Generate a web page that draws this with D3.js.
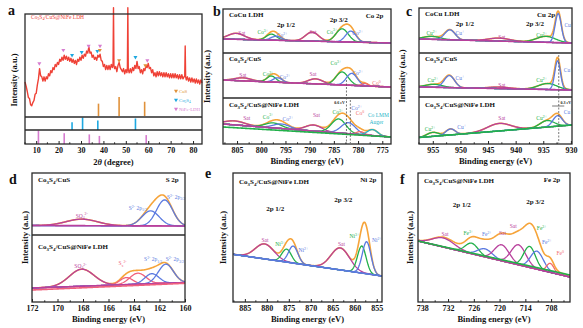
<!DOCTYPE html>
<html>
<head>
<meta charset="utf-8">
<script src="https://cdn.jsdelivr.net/npm/d3@7"></script>
<style>
  body { margin: 0; background: #fff; }
</style>
</head>
<body>
<svg id="fig" width="583" height="328"></svg>
<script>
// ---------------- a : XRD ----------------
const xrdAngle = [5,5.5,6,6.5,7,7.5,8,8.5,9,9.5,10,10.5,11,11.5,12,12.5,13,13.5,14,14.5,15,15.5,16,16.5,17,17.5,18,18.5,19,19.5,
  20,20.5,21,21.5,22,22.5,23,23.5,24,24.5,25,25.5,26,26.5,27,27.5,28,28.5,29,29.5,30,30.5,31,31.5,32,32.5,33,33.5,34,34.5,
  35,35.5,36,36.5,37,37.5,38,38.5,39,39.5,40,40.5,41,41.5,42,42.5,43,43.5,44,44.3,44.5,44.7,45,45.5,46,46.5,47,47.5,48,48.5,
  49,49.5,50,50.5,50.7,50.9,51.1,51.5,52,52.5,53,53.5,54,54.5,55,55.5,56,56.5,57,57.5,58,58.5,59,59.5,60,60.5,61,61.5,62,62.5,
  63,63.5,64,64.5,65,65.5,66,66.5,67,67.5,68,68.5,69,69.5,70,70.5,71,71.5,72,72.5,73,73.5,74,74.5,75,75.5,76,76.3,76.5,76.7,
  77,77.5,78,78.5,79,79.5,80,80.5,81,81.5,82,82.5,83,83.5,84];
const xrdCounts = [34,30,25,19,18,12,11,14,16,22,23,31,37,47,40,39,35,39,35,39,37,42,40,45,43,48,46,51,49,53,
  51,56,54,58,55,60,56,59,55,58,54,57,53,56,52,55,51,56,54,58,55,60,57,61,59,64,62,68,62,63,
  58,60,56,58,55,60,58,61,55,54,49,51,46,50,46,50,46,51,48,52,106,50,47,49,44,50,53,48,46,44,
  47,42,46,43,48,106,46,43,47,43,48,45,50,47,54,47,49,43,46,42,47,45,50,48,52,47,48,43,46,40,
  43,39,44,40,44,40,43,39,43,39,43,39,42,38,42,38,42,38,42,38,41,37,41,37,41,37,39,40,69,39,
  36,39,35,38,34,38,34,37,33,37,33,36,32,36,33];
const xrdTicks = [10, 20, 30, 40, 50, 60, 70, 80];
const cusRef = [37.8, 47.0, 58.4];
const cusRefI = [65, 100, 75];
const co3s4Ref = [26.0, 30.7, 37.5, 54.3];
const co3s4RefI = [62, 100, 77, 92];
const nifeRef = [11.0, 22.5, 33.7, 38.2, 59.1];
const nifeRefI = [100, 80, 71, 60, 66];
// diffraction peak markers: [phase, 2theta, counts]
const xrdMarkers = [
  ["NiFe", 11.4, 52], ["NiFe", 22.1, 65], ["Co3S4", 26.0, 60], ["Co3S4", 30.3, 63],
  ["NiFe", 33.4, 69], ["Co3S4", 37.3, 64], ["CuS", 38.4, 65], ["NiFe", 38.5, 69],
  ["CuS", 47.0, 55], ["Co3S4", 54.3, 58], ["CuS", 58.7, 50], ["NiFe", 59.6, 55]
];
const phases = ["CuS", "Co3S4", "NiFe"];
const phaseNames = ["CuS", "Co_{3}S_{4}", "NiFe-LDH"];

// ---------------- XPS fits: [species, centre eV, height, FWHM eV] ----------------
const bRange = [807.9, 773.2];
const bTicks = [805, 800, 795, 790, 785, 780, 775];
const coCuCo2p = [
  ["Sat", 805.2, 6, 4], ["Co3+", 797.9, 6, 2.5], ["Co2+", 796.9, 4, 2.5],
  ["Sat", 789.5, 9, 3.2], ["Co3+", 783.3, 13, 3], ["Co2+", 781.5, 11, 2.5]
];
const coCuCo2pBase = [14, 10];
const co3s4CuSCo2p = [
  ["Sat", 803.8, 3, 4], ["Co3+", 797.9, 6, 2.2], ["Co2+", 796.6, 4.5, 2.2],
  ["Sat", 788.8, 5, 3.5], ["Co3+", 783.3, 13, 3], ["Co2+", 781.3, 12, 2.6], ["Co0", 778.6, 2.5, 1.6]
];
const co3s4CuSCo2pBase = [18, 11];
const hybridCo2p = [
  ["Sat", 805.5, 4, 5], ["Co3+", 797.5, 5, 4], ["Co2+", 795.8, 4.5, 4], ["Sat", 789.2, 6, 4],
  ["Co3+", 784.0, 14, 3.5], ["Co2+", 782.0, 11, 3.5], ["Co0", 779.5, 3, 2], ["Auger", 777.0, 6, 2.5]
];
const hybridCo2pBase = [20, 7];
const hybridCo2pBase2 = [17, 7];

const cRange = [957.5, 929.8];
const cTicks = [955, 950, 945, 940, 935, 930];
const coCuCu2p = [
  ["Cu2+", 955.2, 3, 3.5], ["Cu+", 951.9, 10, 2.2], ["Sat", 943.0, 3, 4.5],
  ["Cu2+", 934.5, 6, 4], ["Cu+", 932.3, 29, 1.3]
];
const coCuCu2pBase = [14, 10];
const co3s4CuSCu2p = [
  ["Cu2+", 954.8, 3, 3.5], ["Cu+", 952.0, 12, 2.2], ["Sat", 943.0, 1.5, 4.5],
  ["Cu2+", 934.2, 6, 4], ["Cu+", 932.4, 29, 1.2]
];
const co3s4CuSCu2pBase = [10, 7];
const hybridCu2p = [
  ["Cu2+", 955.0, 4, 2.5], ["Cu+", 951.8, 6, 2], ["Sat", 943.0, 7.5, 5],
  ["Cu2+", 934.3, 6.5, 3], ["Cu+", 932.4, 10.5, 2]
];
const hybridCu2pBase = [6.5, 19];

const dRange = [172, 160];
const dTicks = [172, 170, 168, 166, 164, 162, 160];
const co3s4CuSS2p = [
  ["SO4", 168.1, 6.5, 2.9], ["S2-", 162.7, 15, 1.6], ["S2-", 161.6, 26, 1.5]
];
const co3s4CuSS2pBase = [9.5, 9];
const hybridS2p = [
  ["SO4", 168.1, 17, 2.3], ["Sx", 164.6, 7, 1.2], ["Sx", 163.7, 11, 1.5],
  ["S2-", 162.6, 10, 1.3], ["S2-", 161.5, 19, 1.4]
];
const hybridS2pBase = [14, 19.5];
const hybridS2pBase2 = [12, 18.7];

const eRange = [887.7, 853.8];
const eTicks = [885, 880, 875, 870, 865, 860, 855];
const hybridNi2p = [
  ["Sat", 880.5, 15, 5], ["Ni3+", 875.5, 13, 2.5], ["Ni2+", 874.0, 17, 2.5],
  ["Sat", 863.3, 22, 5], ["Ni3+", 858.4, 27, 2.3], ["Ni2+", 857.3, 32, 2.3]
];
const hybridNi2pBase = [47.7, 26];

const fRange = [739, 703.6];
const fTicks = [738, 732, 726, 720, 714, 708];
const hybridFe2p = [
  ["Sat", 733.1, 9, 6], ["Fe3+", 726.5, 10.5, 3.5], ["Fe2+", 723.4, 8, 4],
  ["Sat", 719.5, 16, 4], ["Sat", 715.6, 20, 4], ["Fe3+", 713.0, 21, 3.2],
  ["Fe2+", 711.3, 18, 3.5], ["Fe0", 708.2, 9, 2], ["bg", 718, 10, 16]
];
const hybridFe2pBase = [61, 27];
const hybridFe2pBase2 = [61, 25];

// ---------------- styles ----------------
const FONT = "'Liberation Serif','Times New Roman',serif";
const C = { env: "#f6a43a", mag: "#b8409c", grn: "#22b04a", blu: "#5b7ae0", red: "#f26a6a", cyn: "#1fb4c8" };
const speciesColor = {
  "Sat": C.mag, "SO4": C.mag,
  "Co3+": C.grn, "Cu2+": C.grn, "Ni3+": C.grn, "Fe3+": C.grn,
  "Co2+": C.blu, "Cu+": C.blu, "Ni2+": C.blu, "Fe2+": C.blu, "S2-": C.blu,
  "Co0": C.red, "Fe0": C.red, "Sx": "#f0607c", "Auger": C.cyn
};
const phaseColor = { CuS: "#e0913a", Co3S4: "#1ea8e0", NiFe: "#d67ccf" };

const svg = d3.select("#fig");
svg.append("rect").attr("width", 583).attr("height", 328).attr("fill", "#fff");

function rich(g, str, x, y, size, o = {}) {
  const t = g.append("text").attr("x", x).attr("y", y + size * 0.33)
    .attr("font-family", FONT).attr("font-size", size)
    .attr("font-weight", o.weight || "bold").attr("fill", o.color || "#111")
    .attr("text-anchor", o.anchor || "start");
  if (o.rotate) t.attr("transform", `rotate(${o.rotate},${x},${y})`);
  let shift = 0;
  str.split(/(_\{[^}]*\}|\^\{[^}]*\})/).filter(Boolean).forEach(p => {
    let off = 0, s = p, small = false;
    if (p[0] === "_") { s = p.slice(2, -1); off = 0.3 * size; small = true; }
    else if (p[0] === "^") { s = p.slice(2, -1); off = -0.4 * size; small = true; }
    const ts = t.append("tspan").attr("dy", off - shift).text(s);
    if (small) ts.attr("font-size", size * 0.7);
    shift = off;
  });
  return t;
}

function bottomAxis(g, x, yPos, majors) {
  const step = majors[1] - majors[0];
  const [a, b] = d3.extent(x.domain());
  const minors = d3.range(Math.min(...majors) - Math.abs(step) / 2, b + 0.01, Math.abs(step) / 2)
    .filter(v => v >= a && v <= b && !majors.some(m => Math.abs(m - v) < 1e-6));
  const ax = g.append("g").attr("transform", `translate(0,${yPos})`)
    .call(d3.axisBottom(x).tickValues(majors).tickSize(-3).tickPadding(3.5).tickFormat(d3.format("d")));
  ax.select(".domain").remove();
  ax.selectAll("line").attr("stroke", "#222");
  ax.selectAll("text").attr("font-family", FONT).attr("font-size", 8).attr("font-weight", "bold").attr("fill", "#111");
  // minor ticks drawn as plain lines (no empty labels)
  g.append("g").selectAll(null).data(minors).enter().append("line")
    .attr("x1", d => x(d)).attr("x2", d => x(d)).attr("y1", yPos).attr("y2", yPos - 1.7)
    .attr("stroke", "#222");
}

function frame(g, x0, x1, bounds) {
  g.append("rect").attr("x", x0).attr("y", bounds[0]).attr("width", x1 - x0)
    .attr("height", bounds[bounds.length - 1] - bounds[0])
    .attr("fill", "none").attr("stroke", "#2a2a2a").attr("stroke-width", 1.3);
  bounds.slice(1, -1).forEach(b => g.append("line").attr("x1", x0).attr("x2", x1)
    .attr("y1", b).attr("y2", b).attr("stroke", "#2a2a2a").attr("stroke-width", 1.3));
}

const peak = (e, p) => p[2] * Math.exp(-4 * Math.LN2 * (e - p[1]) ** 2 / (p[3] * p[3]));
let clipN = 0;

function xpsRow(g, x, top, bottom, comps, bases, baseColors) {
  const y = d3.scaleLinear().domain([0, bottom - top]).range([bottom, top]);
  const [e0, e1] = x.domain();
  const grid = d3.range(0, 301).map(i => e0 + (e1 - e0) * i / 300);
  const lin = b => e => b[0] + (b[1] - b[0]) * (e - e0) / (e1 - e0);
  const base = lin(bases[0]);
  const path = f => d3.line().x(e => x(e)).y(e => y(f(e)))(grid);
  const id = "clip" + (clipN++);
  g.append("clipPath").attr("id", id).append("rect")
    .attr("x", x.range()[0]).attr("y", top).attr("width", x.range()[1] - x.range()[0]).attr("height", bottom - top);
  const layer = g.append("g").attr("clip-path", `url(#${id})`).attr("fill", "none");
  layer.append("path").attr("d", path(e => base(e) + d3.sum(comps, p => peak(e, p))))
    .attr("stroke", C.env).attr("stroke-width", 1.6);
  comps.filter(p => speciesColor[p[0]]).forEach(p =>
    layer.append("path").attr("d", path(e => base(e) + peak(e, p)))
      .attr("stroke", speciesColor[p[0]]).attr("stroke-width", 1.3));
  bases.forEach((b, i) => layer.append("path").attr("d", path(lin(b)))
    .attr("stroke", baseColors[i]).attr("stroke-width", 1.6));
  return y;
}

function xpsPanel(cfg) {
  const g = svg.append("g");
  const x = d3.scaleLinear().domain(cfg.range).range([cfg.x0, cfg.x1]);
  cfg.rows.forEach(r => {
    const y = xpsRow(g, x, r.top, r.bottom, r.comps, r.bases, r.baseColors);
    rich(g, r.name, cfg.x0 + 6, r.top + r.nameDy, 7);
    (r.labels || []).forEach(l => {
      if (l[3]) rich(g, l[0], x(l[1]), y(l[2]), 5.5, { anchor: "middle", color: speciesColor[l[3]], weight: "normal" });
      else rich(g, l[0], x(l[1]), y(l[2]), l[4] || 7, { anchor: "middle" });
    });
  });
  const bounds = [cfg.rows[0].top, ...cfg.rows.map(r => r.bottom)];
  frame(g, cfg.x0, cfg.x1, bounds);
  const yb = bounds[bounds.length - 1];
  bottomAxis(g, x, yb, cfg.ticks);
  rich(g, cfg.core, x(cfg.coreAt), bounds[0] + 6.5, 7, { anchor: "middle" });
  rich(g, "Binding energy (eV)", (cfg.x0 + cfg.x1) / 2, yb + 17.5, 8.5, { anchor: "middle" });
  rich(g, "Intensity (a.u.)", cfg.yTitleX, (bounds[0] + yb) / 2, 8.5, { anchor: "middle", rotate: -90 });
  svg.append("text").attr("x", cfg.letter[0]).attr("y", cfg.letter[1]).text(cfg.letter[2])
    .attr("font-family", FONT).attr("font-weight", "bold").attr("font-size", 14).attr("fill", "#111");
  return { g, x };
}

// ---------------- panel a ----------------
(function () {
  const g = svg.append("g");
  const x = d3.scaleLinear().domain([5, 84]).range([25, 202]);
  const yMain = d3.scaleLinear().domain([0, 100]).range([117, 14]);
  const yCuS = d3.scaleLinear().domain([0, 100]).range([116, 97]);
  const yCo = d3.scaleLinear().domain([0, 100]).range([130, 117.5]);
  const yNi = d3.scaleLinear().domain([0, 100]).range([144, 130.5]);

  g.append("path").attr("fill", "none").attr("stroke", "#ef4136").attr("stroke-width", 1.4)
    .attr("stroke-linejoin", "round")
    .attr("d", d3.line().x((d, i) => x(xrdAngle[i])).y(d => yMain(d))(xrdCounts));

  const bars = (pos, inten, ys, color) => g.selectAll(null).data(pos).enter().append("line")
    .attr("x1", d => x(d)).attr("x2", d => x(d)).attr("y1", ys(0)).attr("y2", (d, i) => ys(inten[i]))
    .attr("stroke", color).attr("stroke-width", 1.6);
  bars(cusRef, cusRefI, yCuS, phaseColor.CuS);
  bars(co3s4Ref, co3s4RefI, yCo, phaseColor.Co3S4);
  bars(nifeRef, nifeRefI, yNi, phaseColor.NiFe);

  const tri = d3.symbol(d3.symbolTriangle).size(7)();
  g.selectAll(null).data(xrdMarkers).enter().append("path").attr("d", tri)
    .attr("transform", d => `translate(${x(d[1])},${yMain(d[2])}) rotate(180)`)
    .attr("fill", d => phaseColor[d[0]]);

  phases.forEach((p, i) => {
    g.append("path").attr("d", tri).attr("fill", phaseColor[p])
      .attr("transform", `translate(176,${91 + i * 9}) rotate(180)`);
    rich(g, phaseNames[i], 179, 91 + i * 9, 4.8, { color: phaseColor[p], weight: "normal" });
  });
  rich(g, "Co_{3}S_{4}/CuS@NiFe LDH", 31, 17, 5.5, { color: "#ef4136", weight: "normal" });

  frame(g, 25, 202, [14, 117, 130, 144]);
  bottomAxis(g, x, 144, xrdTicks);
  const t = g.append("text").attr("x", 113.5).attr("y", 165).attr("text-anchor", "middle")
    .attr("font-family", FONT).attr("font-weight", "bold").attr("font-size", 8.5).attr("fill", "#111");
  t.append("tspan").text("2");
  t.append("tspan").attr("font-style", "italic").text("θ");
  t.append("tspan").text(" (degree)");
  rich(g, "Intensity (a.u.)", 14, 80, 8.5, { anchor: "middle", rotate: -90 });
  svg.append("text").attr("x", 8).attr("y", 15).text("a")
    .attr("font-family", FONT).attr("font-weight", "bold").attr("font-size", 14).attr("fill", "#111");
})();

// ---------------- panel b : Co 2p ----------------
xpsPanel({
  range: bRange, x0: 223, x1: 391, ticks: bTicks, core: "Co 2p", coreAt: 776.6,
  yTitleX: 207, letter: [213, 15.5, "b"],
  rows: [
    { top: 9, bottom: 53, comps: coCuCo2p, bases: [coCuCo2pBase], baseColors: [C.mag], name: "CoCu LDH", nameDy: 6,
      labels: [["Sat", 804.0, 20, "Sat"], ["Co^{3+}", 799.7, 21, "Co3+"], ["Co^{2+}", 795.7, 18, "Co2+"],
        ["Sat", 789.3, 21, "Sat"], ["Co^{3+}", 785.4, 21.3, "Co3+"], ["Co^{2+}", 780.1, 20, "Co2+"],
        ["2p 1/2", 794.9, 28], ["2p 3/2", 784.0, 33]] },
    { top: 53, bottom: 98, comps: co3s4CuSCo2p, bases: [co3s4CuSCo2pBase], baseColors: [C.mag], name: "Co_{3}S_{4}/CuS", nameDy: 6,
      labels: [["Sat", 803.8, 23, "Sat"], ["Co^{3+}", 798.6, 24, "Co3+"], ["Co^{2+}", 795.1, 21, "Co2+"],
        ["Sat", 789.3, 24, "Sat"], ["Co^{3+}", 784.6, 35, "Co3+"], ["Co^{2+}", 780.1, 25, "Co2+"], ["Co^{0}", 776.2, 15, "Co0"]] },
    { top: 98, bottom: 144, comps: hybridCo2p, bases: [hybridCo2pBase, hybridCo2pBase2], baseColors: [C.mag, C.grn],
      name: "Co_{3}S_{4}/CuS@NiFe LDH", nameDy: 7,
      labels: [["Sat", 803.0, 26, "Sat"], ["Co^{3+}", 798.6, 27.3, "Co3+"], ["Co^{2+}", 794.5, 25, "Co2+"],
        ["Sat", 788.6, 29, "Sat"], ["Co^{3+}", 784.2, 32, "Co3+"], ["Co^{2+}", 780.3, 36, "Co2+"],
        ["Co^{0}", 779.6, 30.5, "Co0"], ["Co LMM", 775.8, 29, "Auger"], ["Auger", 776.2, 22.3, "Auger"],
        ["0.6 eV", 783.8, 41, null, 4]] }
  ]
});
// shift guide lines for panel b
(function () {
  const x = d3.scaleLinear().domain(bRange).range([223, 391]);
  const g = svg.append("g").attr("stroke", "#555").attr("stroke-width", 0.8).attr("stroke-dasharray", "2,1.5");
  [[782.4, 80], [781.6, 100]].forEach(d => g.append("line")
    .attr("x1", x(d[0])).attr("x2", x(d[0])).attr("y1", d[1]).attr("y2", 143));
})();

// ---------------- panel c : Cu 2p ----------------
xpsPanel({
  range: cRange, x0: 419, x1: 572, ticks: cTicks, core: "Cu 2p", coreAt: 934.5,
  yTitleX: 402, letter: [406, 16, "c"],
  rows: [
    { top: 8, bottom: 53, comps: coCuCu2p, bases: [coCuCu2pBase], baseColors: [C.mag], name: "CoCu LDH", nameDy: 6,
      labels: [["Cu^{2+}", 955.2, 19.7, "Cu2+"], ["Cu^{+}", 950.1, 20, "Cu+"], ["Sat", 942.5, 16, "Sat"],
        ["Cu^{2+}", 935.3, 18, "Cu2+"], ["Cu^{+}", 930.4, 28, "Cu+"], ["2p 1/2", 949.2, 29], ["2p 3/2", 936.5, 29]] },
    { top: 53, bottom: 97, comps: co3s4CuSCu2p, bases: [co3s4CuSCu2pBase], baseColors: [C.mag], name: "Co_{3}S_{4}/CuS", nameDy: 6,
      labels: [["Cu^{2+}", 955.0, 17, "Cu2+"], ["Cu^{+}", 950.1, 19, "Cu+"], ["Sat", 942.5, 12, "Sat"],
        ["Cu^{2+}", 935.3, 17, "Cu2+"], ["Cu^{+}", 930.5, 27, "Cu+"]] },
    { top: 97, bottom: 144, comps: hybridCu2p, bases: [hybridCu2pBase], baseColors: [C.grn],
      name: "Co_{3}S_{4}/CuS@NiFe LDH", nameDy: 8,
      labels: [["Cu^{2+}", 955.5, 15, "Cu2+"], ["Cu^{+}", 949.8, 17, "Cu+"], ["Sat", 942.5, 25.7, "Sat"],
        ["Cu^{2+}", 935.3, 25.7, "Cu2+"], ["Cu^{+}", 930.5, 32.3, "Cu+"], ["0.3 eV", 930.9, 41, null, 4]] }
  ]
});
(function () {
  const x = d3.scaleLinear().domain(cRange).range([419, 572]);
  const g = svg.append("g").attr("stroke", "#555").attr("stroke-width", 0.8);
  g.append("line").attr("x1", x(932.2)).attr("x2", x(932.2)).attr("y1", 55).attr("y2", 143).attr("stroke-dasharray", "2,1.5");
  g.append("line").attr("x1", x(933.4)).attr("x2", x(931.2)).attr("y1", 106).attr("y2", 106);
})();

// ---------------- panel d : S 2p ----------------
xpsPanel({
  range: dRange, x0: 32, x1: 185, ticks: dTicks, core: "S 2p", coreAt: 161.0,
  yTitleX: 25, letter: [9, 184, "d"],
  rows: [
    { top: 173, bottom: 235, comps: co3s4CuSS2p, bases: [co3s4CuSS2pBase], baseColors: [C.mag], name: "Co_{3}S_{4}/CuS", nameDy: 7,
      labels: [["SO_{4}^{2-}", 168.1, 19.3, "SO4"], ["S^{2-} 2p_{1/2}", 163.7, 27, "S2-"], ["S^{2-} 2p_{3/2}", 160.7, 38, "S2-"]] },
    { top: 235, bottom: 302, comps: hybridS2p, bases: [hybridS2pBase, hybridS2pBase2], baseColors: [C.mag, "#f0607c"],
      name: "Co_{3}S_{4}/CuS@NiFe LDH", nameDy: 11.5,
      labels: [["SO_{4}^{2-}", 168.2, 36, "SO4"], ["S_{x}^{2-}", 164.9, 38.7, "Sx"],
        ["S^{2-} 2p_{1/2}", 162.5, 42.5, "S2-"], ["S^{2-} 2p_{3/2}", 160.8, 42.5, "S2-"]] }
  ]
});

// ---------------- panel e : Ni 2p ----------------
xpsPanel({
  range: eRange, x0: 233, x1: 382, ticks: eTicks, core: "Ni 2p", coreAt: 856.9,
  yTitleX: 223, letter: [205, 178, "e"],
  rows: [
    { top: 173, bottom: 302, comps: hybridNi2p, bases: [hybridNi2pBase], baseColors: [C.blu],
      name: "Co_{3}S_{4}/CuS@NiFe LDH", nameDy: 8.5,
      labels: [["2p 3/2", 862.6, 102], ["2p 1/2", 878.1, 93], ["Sat", 880.4, 62, "Sat"], ["Ni^{3+}", 877.0, 58, "Ni3+"],
        ["Ni^{2+}", 871.7, 52, "Ni2+"], ["Sat", 863.0, 58, "Sat"], ["Ni^{3+}", 860.1, 66, "Ni3+"], ["Ni^{2+}", 855.0, 62, "Ni2+"]] }
  ]
});

// ---------------- panel f : Fe 2p ----------------
xpsPanel({
  range: fRange, x0: 418, x1: 570, ticks: fTicks, core: "Fe 2p", coreAt: 707.8,
  yTitleX: 410, letter: [400, 184, "f"],
  rows: [
    { top: 173, bottom: 302, comps: hybridFe2p, bases: [hybridFe2pBase2, hybridFe2pBase], baseColors: [C.mag, C.grn],
      name: "Co_{3}S_{4}/CuS@NiFe LDH", nameDy: 8,
      labels: [["2p 1/2", 728.8, 97.7], ["2p 3/2", 711.7, 100.3], ["Sat", 732.7, 67.7, "Sat"], ["Fe^{3+}", 727.3, 68.7, "Fe3+"],
        ["Fe^{2+}", 723.0, 67.7, "Fe2+"], ["Sat", 719.3, 68.7, "Sat"], ["Sat", 716.8, 76, "Sat"],
        ["Fe^{3+}", 710.2, 73.7, "Fe3+"], ["Fe^{2+}", 709.0, 59.7, "Fe2+"], ["Fe^{0}", 705.9, 48.7, "Fe0"]] }
  ]
});
</script>
</body>
</html>
